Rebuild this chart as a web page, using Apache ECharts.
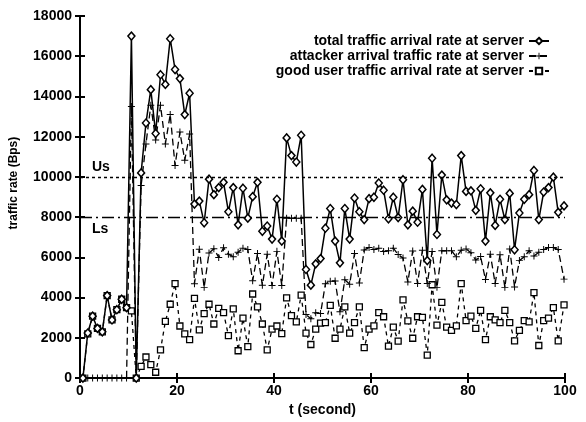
<!DOCTYPE html>
<html>
<head>
<meta charset="utf-8">
<script src="https://cdn.jsdelivr.net/npm/echarts@6/dist/echarts.min.js"></script>
<style>html,body{margin:0;padding:0;background:#fff;}#chart{width:586px;height:422px;}</style>
</head>
<body>
<div id="chart"></div>
<script>
// time (s) of each sample
const times = [0.6,1.6,2.6,3.6,4.6,5.6,6.6,7.6,8.6,9.6,
10.6,11.6,12.6,13.6,14.6,15.6,16.6,17.6,18.6,19.6,
20.6,21.6,22.6,23.6,24.6,25.6,26.6,27.6,28.6,29.6,
30.6,31.6,32.6,33.6,34.6,35.6,36.6,37.6,38.6,39.6,
40.6,41.6,42.6,43.6,44.6,45.6,46.6,47.6,48.6,49.6,
50.6,51.6,52.6,53.6,54.6,55.6,56.6,57.6,58.6,59.6,
60.6,61.6,62.6,63.6,64.6,65.6,66.6,67.6,68.6,69.6,
70.6,71.6,72.6,73.6,74.6,75.6,76.6,77.6,78.6,79.6,
80.6,81.6,82.6,83.6,84.6,85.6,86.6,87.6,88.6,89.6,
90.6,91.6,92.6,93.6,94.6,95.6,96.6,97.6,98.6,99.8];

const totalRate = [0,2240,3080,2470,2300,4100,2890,3400,3920,3500,
17000,0,10200,12680,14340,12160,15080,14600,16870,15340,
14890,13100,14160,8650,8800,7720,9890,9120,9470,9730,
8270,9470,7620,9440,7950,9020,9730,7300,7560,6910,
8890,6810,11940,11060,10740,12070,5400,4620,5680,5940,
7450,8430,6810,5730,8430,6910,8950,8270,7880,8920,
8990,9700,9340,7920,8990,7980,9860,7620,8300,7750,
9380,5840,10930,7140,10090,8860,8700,8630,11060,9280,
9310,8340,9410,6810,9210,7590,8890,7880,9180,6380,
8210,8890,9120,10320,7880,9250,9470,9990,8240,8560];

const attackerRate = [0,0,0,0,0,0,0,0,0,0,
13500,0,9570,11640,13560,11840,13560,11640,13100,10570,
12230,10830,12130,4690,6400,4510,6220,6430,6000,6480,
6160,6030,6260,6460,6390,4840,6190,4610,6160,4600,
6300,4600,7950,7950,7950,7950,3160,2950,3250,3210,
4690,4810,4830,3300,4890,4670,6190,4730,6370,6490,
6390,6450,6290,6330,6460,6140,5970,4780,6320,4700,
6360,4700,6290,4510,6330,6330,6330,6030,6360,6420,
6230,5870,6040,4900,6160,4700,6130,4510,6420,4530,
5840,6030,6330,6070,6260,6390,6490,6490,6390,4920];

const goodRate = [0,2200,3080,2470,2300,4100,2890,3400,3920,3500,
3340,0,580,1050,670,290,1400,2820,3670,4700,
2590,2200,1910,3960,2400,3210,3670,2690,3470,3250,
2110,3440,1360,2980,1560,4180,3540,2690,1400,2430,
2590,2210,3990,3110,2790,4120,2240,1670,2430,2730,
2760,3620,1980,2430,3540,2240,2760,3540,1510,2430,
2600,3250,3050,1590,2530,1840,3890,2840,1980,3050,
3020,1140,4640,2630,3760,2530,2370,2600,4700,2860,
3080,2470,3370,1910,3050,2890,2760,3370,2760,1850,
2370,2860,2790,4250,1620,2860,2980,3500,1850,3640];

const seriesNames = ['total traffic arrival rate at server',
  'attacker arrival traffic rate at server',
  'good user traffic arrival rate at server'];
const thresholdUs = 10000;
const thresholdLs = 8000;
const thresholdLabels = ['Us', 'Ls'];

const pairs = arr => times.map((t, i) => [t, arr[i]]);
const FONT = 'Liberation Sans';
const labelStyle = {color: '#000', fontFamily: FONT, fontWeight: 'bold', fontSize: 14};
const plusPath = 'path://M0,4.3 H10 V5.7 H0 Z M4.3,0 H5.7 V10 H4.3 Z';

const chart = echarts.init(document.getElementById('chart'), null, {renderer: 'canvas'});
chart.setOption({
  animation: false,
  backgroundColor: '#fff',
  grid: {left: 79, right: 21, top: 16, bottom: 36, show: false},
  legend: {
    orient: 'vertical', right: 31, top: 29, align: 'right',
    itemWidth: 20, itemHeight: 8, itemGap: 1,
    textStyle: {color: '#000', fontFamily: FONT, fontWeight: 'bold', fontSize: 14, lineHeight: 12},
    data: seriesNames
  },
  xAxis: [{
    type: 'value', min: 0, max: 100, interval: 20, position: 'bottom',
    name: 't (second)', nameLocation: 'middle', nameGap: 20,
    nameTextStyle: {color: '#000', fontFamily: FONT, fontWeight: 'bold', fontSize: 14},
    axisLine: {lineStyle: {color: '#000', width: 2}},
    axisTick: {inside: true, length: 5, lineStyle: {color: '#000', width: 2}},
    axisLabel: Object.assign({margin: 6}, labelStyle),
    splitLine: {show: false}
  }, {
    type: 'value', min: 0, max: 100, interval: 20, position: 'top',
    axisLine: {lineStyle: {color: '#000', width: 2}},
    axisTick: {inside: true, length: 5, lineStyle: {color: '#000', width: 2}},
    axisLabel: {show: false}, splitLine: {show: false}
  }],
  yAxis: [{
    type: 'value', min: 0, max: 18000, interval: 2000,
    name: 'traffic rate (Bps)', nameLocation: 'middle', nameGap: 60, nameRotate: 90,
    nameTextStyle: {color: '#000', fontFamily: FONT, fontWeight: 'bold', fontSize: 12, padding: [0, 0, 0, 28]},
    axisLine: {lineStyle: {color: '#000', width: 2}},
    axisTick: {inside: true, length: 5, lineStyle: {color: '#000', width: 2}},
    axisLabel: Object.assign({margin: 8, formatter: v => String(v)}, labelStyle),
    splitLine: {show: false}
  }, {
    type: 'value', min: 0, max: 18000, interval: 2000, position: 'right',
    axisLine: {lineStyle: {color: '#000', width: 2}},
    axisTick: {inside: true, length: 5, lineStyle: {color: '#000', width: 2}},
    axisLabel: {show: false}, splitLine: {show: false}
  }],
  series: [{
    name: seriesNames[2], type: 'line', data: pairs(goodRate), z: 2,
    symbol: 'rect', symbolSize: 6, showAllSymbol: true,
    lineStyle: {color: '#000', width: 1.3, type: [4, 4]},
    itemStyle: {color: '#fff', borderColor: '#000', borderWidth: 1.3},
    markLine: {
      silent: true, symbol: 'none',
      data: [
        {yAxis: thresholdUs, lineStyle: {color: '#000', width: 1.3, type: [3, 3]},
         label: {formatter: thresholdLabels[0], position: 'insideStartTop', distance: [12, 3], color: '#000', fontFamily: FONT, fontWeight: 'bold', fontSize: 14}},
        {yAxis: thresholdLs, lineStyle: {color: '#000', width: 1.3, type: [12, 4, 2, 4]},
         label: {formatter: thresholdLabels[1], position: 'insideStartBottom', distance: [12, 5], color: '#000', fontFamily: FONT, fontWeight: 'bold', fontSize: 14}}
      ]
    }
  }, {
    name: seriesNames[1], type: 'line', data: pairs(attackerRate), z: 3,
    symbol: plusPath, symbolSize: 7, showAllSymbol: true,
    lineStyle: {color: '#000', width: 1.3, type: [7, 4]},
    itemStyle: {color: '#000'}
  }, {
    name: seriesNames[0], type: 'line', data: pairs(totalRate), z: 4,
    symbol: 'diamond', symbolSize: [7, 8], showAllSymbol: true,
    lineStyle: {color: '#000', width: 1.5},
    itemStyle: {color: '#fff', borderColor: '#000', borderWidth: 1.5}
  }]
});
</script>
</body>
</html>
